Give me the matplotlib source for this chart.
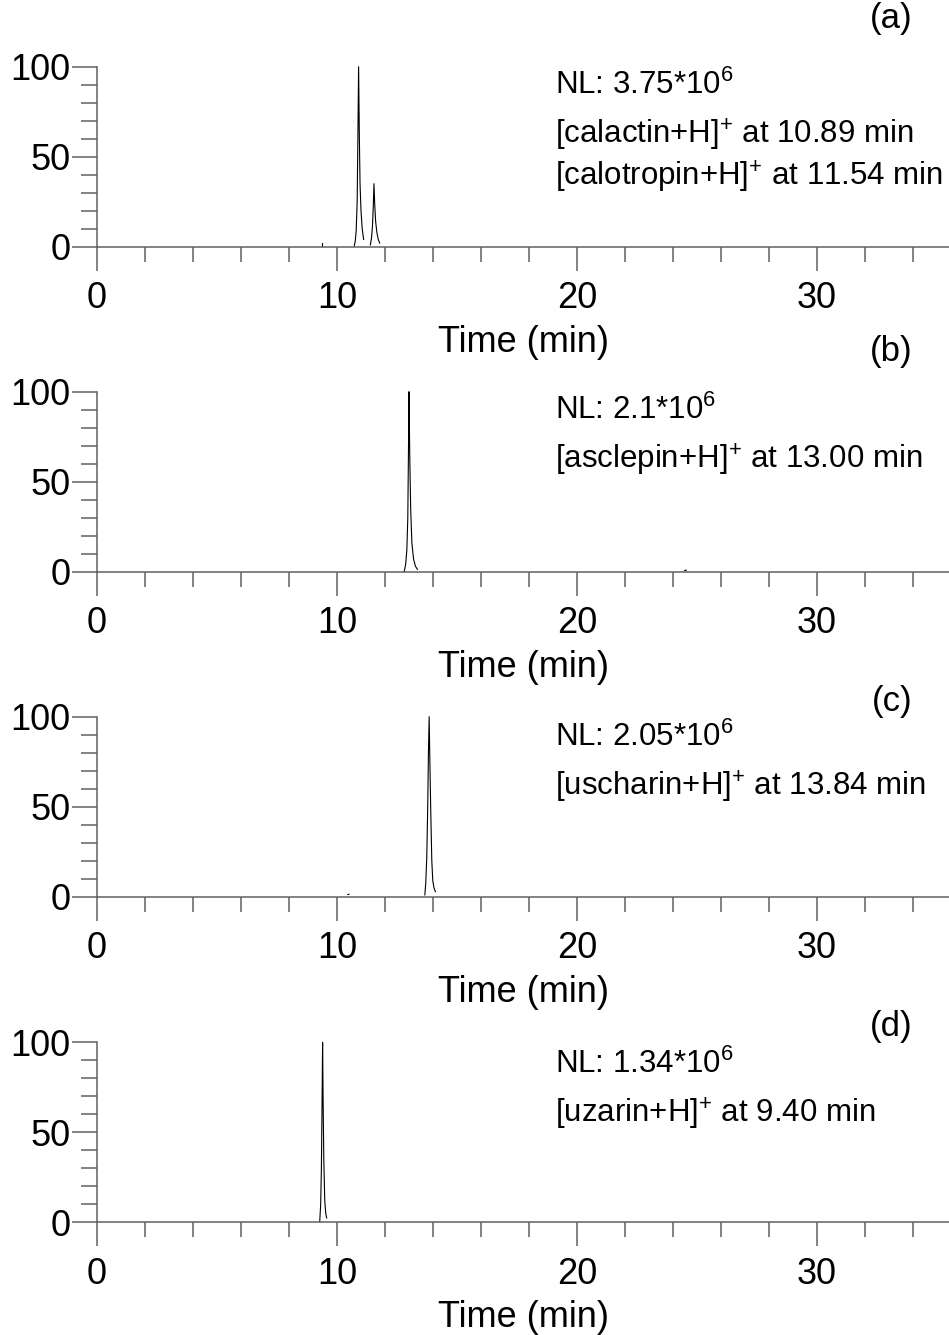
import matplotlib
matplotlib.use("Agg")
import matplotlib.pyplot as plt
from matplotlib.ticker import MultipleLocator

plt.rcParams['font.family'] = ['Liberation Sans', 'DejaVu Sans']
plt.rcParams['mathtext.fontset'] = 'custom'
plt.rcParams['mathtext.rm'] = 'Liberation Sans'
plt.rcParams['mathtext.it'] = 'Liberation Sans:italic'
plt.rcParams['mathtext.bf'] = 'Liberation Sans:bold'

# chromatogram traces (time in min, relative abundance in %)
a1_t = [10.72, 10.76, 10.80, 10.84, 10.87, 10.90, 10.93, 10.96, 11.00, 11.05, 11.11]
a1_y = [0.5, 3, 9, 25, 60, 100, 62, 35, 20, 10, 4]
a2_t = [11.39, 11.44, 11.48, 11.51, 11.54, 11.57, 11.61, 11.66, 11.72, 11.78]
a2_y = [1, 5, 12, 22, 35, 24, 14, 8, 4, 2]
a3_t = [9.37, 9.37]
a3_y = [0.2, 2]

b1_t = [12.80, 12.86, 12.91, 12.95, 12.98, 13.00, 13.03, 13.07, 13.12, 13.19, 13.27, 13.35]
b1_y = [0, 4, 12, 30, 70, 100, 65, 35, 16, 7, 3, 1.3]
b2_t = [24.48, 24.55]
b2_y = [0.6, 0.9]

c1_t = [13.66, 13.70, 13.74, 13.78, 13.81, 13.84, 13.87, 13.91, 13.95, 13.99, 14.04, 14.10]
c1_y = [1, 8, 22, 50, 80, 100, 75, 45, 20, 9, 5, 2.8]
c2_t = [10.45, 10.50]
c2_y = [1.2, 1.4]

d1_t = [9.28, 9.32, 9.35, 9.38, 9.40, 9.42, 9.45, 9.49, 9.53, 9.57]
d1_y = [0.3, 10, 30, 70, 100, 70, 35, 12, 5, 2.4]

panel_labels = ['(a)', '(b)', '(c)', '(d)']
nl_texts = [r'NL: 3.75*10$\mathregular{^{6}}$', r'NL: 2.1*10$\mathregular{^{6}}$',
            r'NL: 2.05*10$\mathregular{^{6}}$', r'NL: 1.34*10$\mathregular{^{6}}$']
peak_texts = [
    [r'[calactin+H]$\mathregular{^{+}}$ at 10.89 min', r'[calotropin+H]$\mathregular{^{+}}$ at 11.54 min'],
    [r'[asclepin+H]$\mathregular{^{+}}$ at 13.00 min'],
    [r'[uscharin+H]$\mathregular{^{+}}$ at 13.84 min'],
    [r'[uzarin+H]$\mathregular{^{+}}$ at 9.40 min'],
]
traces = [
    [(a1_t, a1_y), (a2_t, a2_y), (a3_t, a3_y)],
    [(b1_t, b1_y), (b2_t, b2_y)],
    [(c1_t, c1_y), (c2_t, c2_y)],
    [(d1_t, d1_y)],
]

W, H = 949, 1335
fig = plt.figure(figsize=(W / 100, H / 100), dpi=100)

axis_color = '#606060'
zero_px = [246.7, 571.7, 896.7, 1222.3]     # pixel row of y=0 in each panel
label_base = [28, 361, 711, 1036]           # baseline of (a)...(d)
nl_base = [94, 419, 746, 1073]

for i in range(4):
    bottom = 1 - zero_px[i] / H
    ax = fig.add_axes([97 / W, bottom, 1 - 97 / W, 180 / H])
    for t, y in traces[i]:
        ax.plot(t, y, color='black', lw=0.8, clip_on=False)
    ax.set_xlim(0, 35.5)
    ax.set_ylim(0, 100)
    ax.spines['top'].set_visible(False)
    ax.spines['right'].set_visible(False)
    for s in ['left', 'bottom']:
        ax.spines[s].set_color(axis_color)
        ax.spines[s].set_linewidth(1.1)
    ax.xaxis.set_major_locator(MultipleLocator(10))
    ax.xaxis.set_minor_locator(MultipleLocator(2))
    ax.yaxis.set_major_locator(MultipleLocator(50))
    ax.yaxis.set_minor_locator(MultipleLocator(10))
    ax.tick_params(axis='x', which='major', direction='out', length=17, width=1.1,
                   color=axis_color, labelsize=26, pad=8)
    ax.tick_params(axis='x', which='minor', direction='out', length=11, width=1.1, color=axis_color)
    ax.tick_params(axis='y', which='major', direction='out', length=18, width=1.1,
                   color=axis_color, labelsize=26, pad=1)
    ax.tick_params(axis='y', which='minor', direction='out', length=11.5, width=1.1, color=axis_color)
    ax.set_xlabel('Time (min)', fontsize=26, labelpad=6)

    fig.text(912 / W, 1 - label_base[i] / H, panel_labels[i], fontsize=25,
             ha='right', va='baseline')
    fig.text(555 / W, 1 - nl_base[i] / H, nl_texts[i], fontsize=22.5,
             ha='left', va='baseline')
    for k, s in enumerate(peak_texts[i]):
        yb = nl_base[i] + 50 + k * 42
        fig.text(555 / W, 1 - yb / H, s, fontsize=22.5, ha='left', va='baseline')

fig.savefig('out.png', dpi=100)
